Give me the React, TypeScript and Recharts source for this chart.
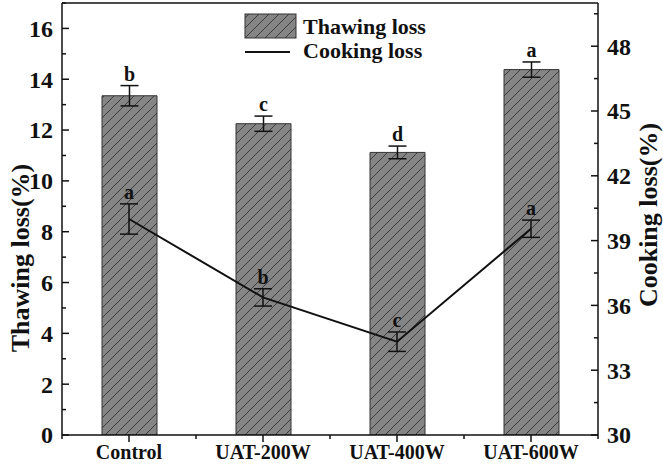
import React from 'react';
import { ComposedChart, Bar, Line, XAxis, YAxis, ErrorBar, LabelList, ReferenceLine } from 'recharts';

const categories = ['Control', 'UAT-200W', 'UAT-400W', 'UAT-600W'];
const thawingLoss = [13.35, 12.25, 11.12, 14.38];
const thawingErr = [0.4, 0.3, 0.25, 0.3];
const thawingLetters = ['b', 'c', 'd', 'a'];
const cookingLoss = [40.0, 36.37, 34.32, 39.55];
const cookingErr = [0.7, 0.4, 0.45, 0.4];
const cookingLetters = ['a', 'b', 'c', 'a'];
const leftTicks = [0, 1, 2, 3, 4, 5, 6, 7, 8, 9, 10, 11, 12, 13, 14, 15, 16, 17];
const rightTicks = [30, 31.5, 33, 34.5, 36, 37.5, 39, 40.5, 42, 43.5, 45, 46.5, 48, 49.5];

const data = categories.map((name, i) => ({
  name,
  thaw: thawingLoss[i],
  thawErr: thawingErr[i],
  thawLetter: thawingLetters[i],
  cook: cookingLoss[i],
  cookErr: cookingErr[i],
  cookTop: cookingLoss[i] + cookingErr[i],
  cookLetter: cookingLetters[i],
}));

const W = 663;
const H = 469;
const FONT = '"Liberation Serif", "Times New Roman", serif';
const PLOT_LEFT = 62;
const PLOT_RIGHT = 598;
const BAND = (PLOT_RIGHT - PLOT_LEFT) / categories.length;
const AXIS = '#111';

const LeftTick = (props: any) => {
  const { x, y, payload } = props;
  const v = payload.value;
  const major = v % 2 === 0;
  return (
    <g>
      <line x1={x} y1={y} x2={x + (major ? 7 : 4)} y2={y} stroke={AXIS} strokeWidth={1.5} />
      {major && (
        <text x={x - 9} y={y} dy="0.35em" textAnchor="end" fontFamily={FONT} fontWeight="bold" fontSize={24} fill="#111">
          {v}
        </text>
      )}
    </g>
  );
};

const RightTick = (props: any) => {
  const { x, y, payload } = props;
  const v = payload.value;
  const major = v % 3 === 0;
  return (
    <g>
      <line x1={x} y1={y} x2={x - (major ? 7 : 4)} y2={y} stroke={AXIS} strokeWidth={1.5} />
      {major && (
        <text x={x + 9} y={y} dy="0.35em" textAnchor="start" fontFamily={FONT} fontWeight="bold" fontSize={24} fill="#111">
          {v}
        </text>
      )}
    </g>
  );
};

const XTick = (props: any) => {
  const { x, y, payload, index } = props;
  return (
    <g>
      <line x1={x} y1={y} x2={x} y2={y + 7} stroke={AXIS} strokeWidth={1.5} />
      <line x1={x - BAND / 2} y1={y} x2={x - BAND / 2} y2={y + 4} stroke={AXIS} strokeWidth={1.5} />
      {index === categories.length - 1 && (
        <line x1={x + BAND / 2} y1={y} x2={x + BAND / 2} y2={y + 4} stroke={AXIS} strokeWidth={1.5} />
      )}
      <text x={x} y={y + 24} textAnchor="middle" fontFamily={FONT} fontWeight="bold" fontSize={20} fill="#111">
        {payload.value}
      </text>
    </g>
  );
};

const ThawLabel = (props: any) => {
  const { x, y, width, height, index } = props;
  const perUnit = height / thawingLoss[index];
  const top = y - thawingErr[index] * perUnit;
  return (
    <text x={x + width / 2} y={top - 5} textAnchor="middle" fontFamily={FONT} fontWeight="bold" fontSize={20} fill="#111">
      {thawingLetters[index]}
    </text>
  );
};

const CookLabel = (props: any) => {
  const { x, y, index } = props;
  return (
    <text x={x} y={y - 5} textAnchor="middle" fontFamily={FONT} fontWeight="bold" fontSize={20} fill="#111">
      {cookingLetters[index]}
    </text>
  );
};

const LeftTitle = () => {
  const cx = 20;
  const cy = 258;
  return (
    <text x={cx} y={cy} transform={`rotate(-90 ${cx} ${cy})`} textAnchor="middle" dominantBaseline="central" fontFamily={FONT} fontWeight="bold" fontSize={26} fill="#111">
      Thawing loss(%)
    </text>
  );
};

const RightTitle = () => {
  const cx = 648;
  const cy = 215;
  return (
    <text x={cx} y={cy} transform={`rotate(-90 ${cx} ${cy})`} textAnchor="middle" dominantBaseline="central" fontFamily={FONT} fontWeight="bold" fontSize={26} fill="#111">
      Cooking loss(%)
    </text>
  );
};

const HatchDef = ({ id }: { id: string }) => (
  <pattern id={id} patternUnits="userSpaceOnUse" width={10} height={10}>
    <rect x={0} y={0} width={10} height={10} fill="#858585" />
    <path d="M-2,2 l4,-4 M0,10 l10,-10 M8,12 l4,-4" stroke="#3c3c3c" strokeWidth={1} />
  </pattern>
);

const LegendBox = () => (
  <svg width={240} height={60} style={{ display: 'block' }}>
    <defs>
      <HatchDef id="hatchLegend" />
    </defs>
    <rect x={2} y={4} width={51} height={24} fill="url(#hatchLegend)" stroke="#333" strokeWidth={1} />
    <text x={60} y={16} dy="0.35em" fontFamily={FONT} fontWeight="bold" fontSize={22} fill="#111">
      Thawing loss
    </text>
    <line x1={2} y1={42} x2={47} y2={42} stroke="#111" strokeWidth={2} />
    <text x={60} y={40} dy="0.35em" fontFamily={FONT} fontWeight="bold" fontSize={22} fill="#111">
      Cooking loss
    </text>
  </svg>
);

export default function App() {
  return (
    <div style={{ position: 'absolute', left: 0, top: 0, width: W, height: H, background: '#fff' }}>
      <ComposedChart width={W} height={H} data={data} margin={{ top: 3, right: 0, bottom: 0, left: 0 }} barCategoryGap={0}>
        <defs>
          <HatchDef id="hatchBar" />
        </defs>
        <XAxis
          dataKey="name"
          height={34}
          axisLine={{ stroke: AXIS, strokeWidth: 1.5 }}
          tickLine={false}
          tickSize={0}
          tickMargin={0}
          tick={<XTick />}
          interval={0}
        />
        <YAxis
          yAxisId="left"
          width={62}
          domain={[0, 17]}
          ticks={leftTicks}
          interval={0}
          axisLine={{ stroke: AXIS, strokeWidth: 1.5 }}
          tickLine={false}
          tickSize={0}
          tickMargin={0}
          tick={<LeftTick />}
          label={<LeftTitle />}
          allowDataOverflow
        />
        <YAxis
          yAxisId="right"
          orientation="right"
          width={65}
          domain={[30, 50]}
          ticks={rightTicks}
          interval={0}
          axisLine={{ stroke: AXIS, strokeWidth: 1.5 }}
          tickLine={false}
          tickSize={0}
          tickMargin={0}
          tick={<RightTick />}
          label={<RightTitle />}
          allowDataOverflow
        />
        <ReferenceLine yAxisId="left" y={17} stroke={AXIS} strokeWidth={1.5} ifOverflow="extendDomain" />
        <Bar yAxisId="left" dataKey="thaw" barSize={55} fill="url(#hatchBar)" stroke="#333" strokeWidth={1} isAnimationActive={false}>
          <ErrorBar dataKey="thawErr" width={9} stroke="#111" strokeWidth={1.5} direction="y" />
          <LabelList dataKey="thawLetter" content={<ThawLabel />} />
        </Bar>
        <Line yAxisId="right" type="linear" dataKey="cook" stroke="#111" strokeWidth={2} dot={false} activeDot={false} isAnimationActive={false}>
          <ErrorBar dataKey="cookErr" width={9} stroke="#111" strokeWidth={1.5} direction="y" />
        </Line>
        <Line yAxisId="right" type="linear" dataKey="cookTop" stroke="none" dot={false} activeDot={false} isAnimationActive={false} legendType="none">
          <LabelList dataKey="cookLetter" content={<CookLabel />} />
        </Line>
      </ComposedChart>
      <div style={{ position: 'absolute', left: 243, top: 10 }}>
        <LegendBox />
      </div>
    </div>
  );
}
